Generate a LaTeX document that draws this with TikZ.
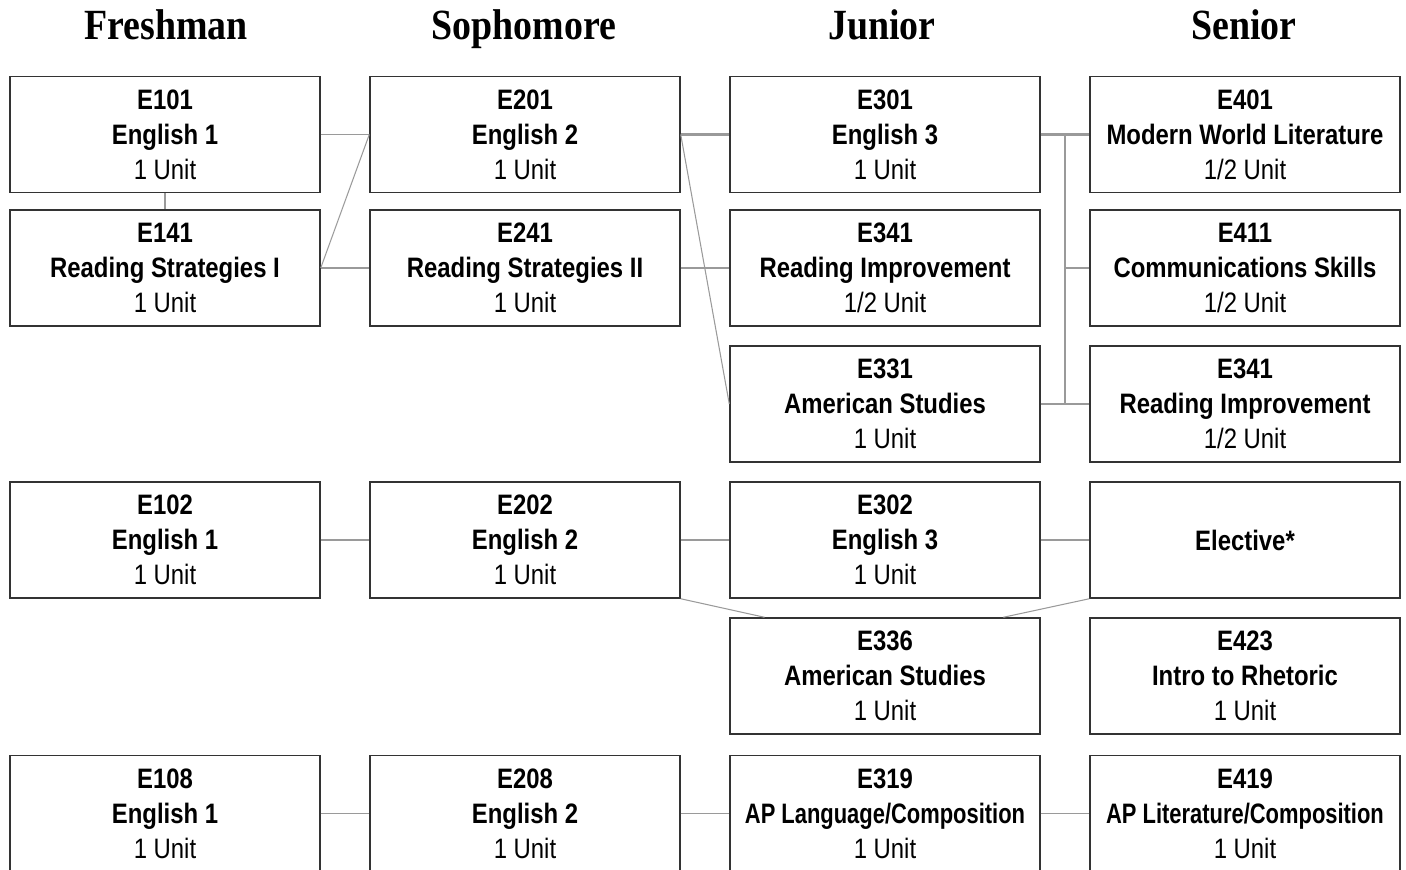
\documentclass[tikz,border=0pt]{standalone}
\usepackage{fontspec}
\newfontfamily\boxfont[FakeStretch=0.85]{Liberation Sans}
\newfontfamily\apfont[FakeStretch=0.78]{Liberation Sans}
\newfontfamily\headfont[FakeStretch=0.88]{Liberation Serif}
\usetikzlibrary{calc}
\definecolor{boxline}{HTML}{333333}
\definecolor{linkgray}{HTML}{9A9A9A}

\begin{document}
\begin{tikzpicture}[
    x=0.02cm, y=-0.02cm,
    box/.style={draw=boxline, line width=0.85pt, minimum width=6.2cm, minimum height=2.32cm,
                inner sep=0pt, align=center, font=\boxfont\bfseries\fontsize{16}{19.85}\selectfont},
    head/.style={anchor=base, font=\headfont\bfseries\fontsize{24.5}{28}\selectfont},
    link/.style={draw=linkgray, line width=0.6pt},
    thicklink/.style={draw=linkgray, line width=1.2pt}
]
\useasboundingbox (0,0) rectangle (1406,869);
\clip (0,0) rectangle (1406,869);

% Year headings
\node[head] (fresh) at (166,39) {Freshman};
\node[head] (soph) at (524,39) {Sophomore};
\node[head] (jun) at (882,39) {Junior};
\node[head] (sen) at (1244,39) {Senior};

% Freshman
\node[box] (e101) at (165,134.5) {E101\\English 1\\\mdseries 1 Unit};
\node[box] (e141) at (165,268) {E141\\Reading Strategies I\\\mdseries 1 Unit};
\node[box] (e102) at (165,540) {E102\\English 1\\\mdseries 1 Unit};
\node[box] (e108) at (165,813.5) {E108\\English 1\\\mdseries 1 Unit};

% Sophomore
\node[box] (e201) at (525,134.5) {E201\\English 2\\\mdseries 1 Unit};
\node[box] (e241) at (525,268) {E241\\Reading Strategies II\\\mdseries 1 Unit};
\node[box] (e202) at (525,540) {E202\\English 2\\\mdseries 1 Unit};
\node[box] (e208) at (525,813.5) {E208\\English 2\\\mdseries 1 Unit};

% Junior
\node[box] (e301) at (885,134.5) {E301\\English 3\\\mdseries 1 Unit};
\node[box] (e341) at (885,268) {E341\\Reading Improvement\\\mdseries 1/2 Unit};
\node[box] (e331) at (885,404) {E331\\American Studies\\\mdseries 1 Unit};
\node[box] (e302) at (885,540) {E302\\English 3\\\mdseries 1 Unit};
\node[box] (e336) at (885,676) {E336\\American Studies\\\mdseries 1 Unit};
\node[box] (e319) at (885,813.5) {E319\\\apfont AP Language/Composition\\\mdseries 1 Unit};

% Senior
\node[box] (e401) at (1245,134.5) {E401\\Modern World Literature\\\mdseries 1/2 Unit};
\node[box] (e411) at (1245,268) {E411\\Communications Skills\\\mdseries 1/2 Unit};
\node[box] (e341s) at (1245,404) {E341\\Reading Improvement\\\mdseries 1/2 Unit};
\node[box] (elect) at (1245,540) {Elective*};
\node[box] (e423) at (1245,676) {E423\\Intro to Rhetoric\\\mdseries 1 Unit};
\node[box] (e419) at (1245,813.5) {E419\\\apfont AP Literature/Composition\\\mdseries 1 Unit};

% Links, first track
\draw[link] (e101.south) -- (e141.north);
\draw[link] (e101.east) -- (e201.west);
\draw[link] (e201.west) -- (e141.east);
\draw[link] (e141.east) -- (e241.west);
\draw[thicklink] (e201.east) -- (e301.west);
\draw[link] (e201.east) -- (e331.west);
\draw[link] (e241.east) -- (e341.west);
\coordinate (spine) at (1065,134.5);
\draw[thicklink] (e301.east) -- (e401.west);
\draw[link] (spine) -- (spine |- e331.east);
\draw[link] (spine |- e411.west) -- (e411.west);
\draw[link] (e331.east) -- (e341s.west);

% Links, second track
\draw[link] (e102.east) -- (e202.west);
\draw[link] (e202.east) -- (e302.west);
\draw[link] (e302.east) -- (elect.west);
\draw[link] (e202.south east) -- ($(e336.north west)!0.113!(e336.north east)$);
\draw[link] (elect.south west) -- ($(e336.north west)!0.88!(e336.north east)$);

% Links, AP track
\draw[link] (e108.east) -- (e208.west);
\draw[link] (e208.east) -- (e319.west);
\draw[link] (e319.east) -- (e419.west);
\end{tikzpicture}
\end{document}
